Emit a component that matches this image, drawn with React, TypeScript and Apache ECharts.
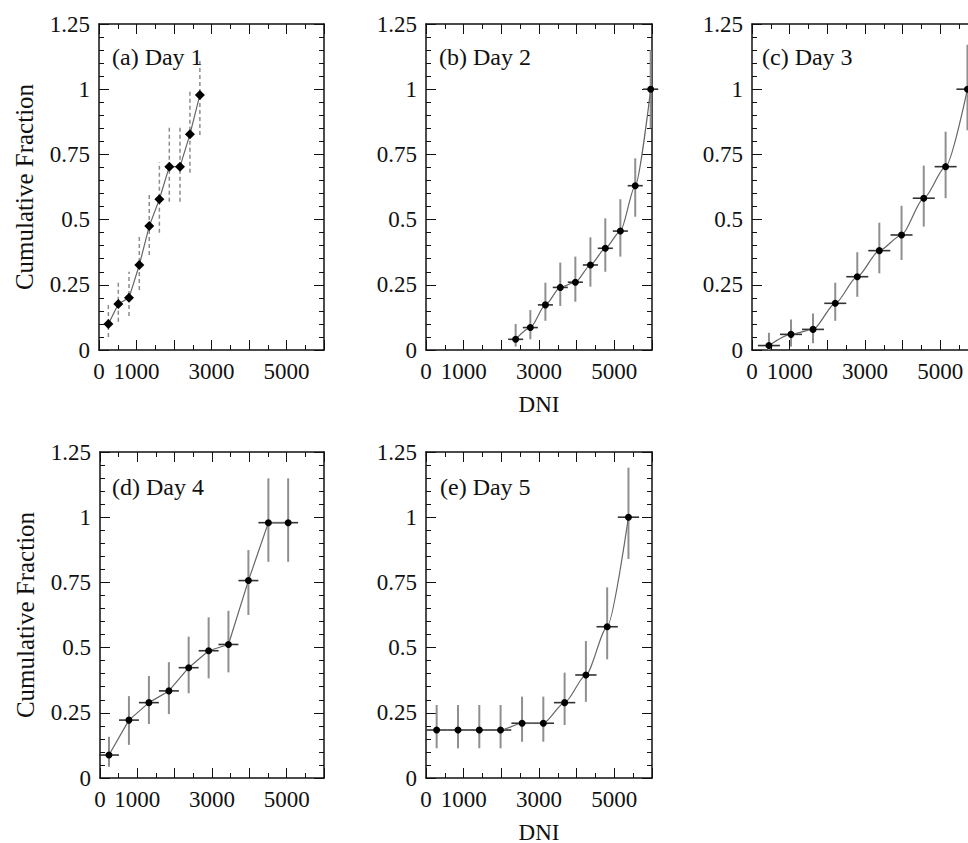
import React, { useEffect, useRef } from "react";
import * as echarts from "echarts";

// ---- data ----
const day1X = [250, 515, 800, 1075, 1340, 1610, 1875, 2160, 2425, 2690];
const day1Y = [0.1, 0.176, 0.2, 0.326, 0.475, 0.578, 0.703, 0.703, 0.827, 0.978];
const day1Lo = [0.05, 0.108, 0.13, 0.23, 0.364, 0.45, 0.568, 0.568, 0.68, 0.824];
const day1Hi = [0.18, 0.268, 0.3, 0.44, 0.603, 0.72, 0.862, 0.862, 0.997, 1.11];

const day2X = [2380, 2770, 3170, 3565, 3965, 4365, 4760, 5160, 5555, 5965];
const day2Y = [0.041, 0.086, 0.173, 0.24, 0.26, 0.326, 0.39, 0.456, 0.63, 1.0];
const day2Lo = [0.013, 0.041, 0.112, 0.169, 0.185, 0.243, 0.3, 0.358, 0.511, 0.85];
const day2Hi = [0.1, 0.153, 0.258, 0.335, 0.358, 0.432, 0.505, 0.578, 0.735, 1.15];

const day3X = [450, 1035, 1620, 2210, 2795, 3380, 3970, 4560, 5140, 5720];
const day3Y = [0.017, 0.06, 0.079, 0.179, 0.281, 0.381, 0.441, 0.582, 0.703, 1.0];
const day3Lo = [0, 0.013, 0.026, 0.112, 0.204, 0.294, 0.345, 0.473, 0.582, 0.843];
const day3Hi = [0.066, 0.117, 0.14, 0.258, 0.375, 0.488, 0.553, 0.707, 0.837, 1.17];

const day4X = [240, 775, 1310, 1845, 2375, 2910, 3440, 3975, 4510, 5040];
const day4Y = [0.088, 0.222, 0.289, 0.334, 0.423, 0.488, 0.512, 0.757, 0.979, 0.979];
const day4Lo = [0.043, 0.127, 0.207, 0.245, 0.325, 0.382, 0.405, 0.625, 0.829, 0.829];
const day4Hi = [0.158, 0.314, 0.391, 0.444, 0.542, 0.616, 0.641, 0.874, 1.149, 1.149];

const day5X = [283, 850, 1415, 1980, 2550, 3115, 3680, 4245, 4810, 5375];
const day5Y = [0.184, 0.184, 0.184, 0.184, 0.21, 0.21, 0.289, 0.395, 0.58, 1.0];
const day5Lo = [0.114, 0.114, 0.114, 0.114, 0.139, 0.139, 0.203, 0.292, 0.455, 0.84];
const day5Hi = [0.28, 0.28, 0.28, 0.28, 0.312, 0.312, 0.404, 0.525, 0.731, 1.19];

// half-widths of the horizontal (bin) error bars per day
const binHalfWidths = [0, 200, 292, 267, 283];

const panelLabels = ["(a) Day 1", "(b) Day 2", "(c) Day 3", "(d) Day 4", "(e) Day 5"];
const xTickLabels = ["0", "1000", "3000", "5000"];
const xMin = 0;
const xMax = 6000;
const xInterval = 1000;
const yMin = 0;
const yMax = 1.25;
const yInterval = 0.25;
const yAxisTitle = "Cumulative Fraction";
const xAxisTitle = "DNI";

const FONT = "Liberation Serif, Times New Roman, Times, serif";
const TEXT = "#111";

type Day = { x: number[]; y: number[]; lo: number[]; hi: number[] };
const days: Day[] = [
  { x: day1X, y: day1Y, lo: day1Lo, hi: day1Hi },
  { x: day2X, y: day2Y, lo: day2Lo, hi: day2Hi },
  { x: day3X, y: day3Y, lo: day3Lo, hi: day3Hi },
  { x: day4X, y: day4Y, lo: day4Lo, hi: day4Hi },
  { x: day5X, y: day5Y, lo: day5Lo, hi: day5Hi },
];

// layout of each panel's plot box
const grids = [
  { left: 99, top: 24, width: 225, height: 326 },
  { left: 426, top: 24, width: 226, height: 326 },
  { left: 752, top: 24, width: 226, height: 326 },
  { left: 100, top: 452, width: 224, height: 326 },
  { left: 426, top: 452, width: 226, height: 326 },
];
const labelPos = [
  [112, 57],
  [439, 57],
  [762, 57],
  [112, 487],
  [440, 487],
];

function buildOption() {
  const axisLine = { show: true, onZero: false, lineStyle: { color: "#111", width: 1.5 } };
  const tick = { show: true, inside: true, length: 10, lineStyle: { color: "#111", width: 1 } };
  const xAxes: any[] = [];
  const yAxes: any[] = [];
  const series: any[] = [];

  grids.forEach((_, i) => {
    const showYTitle = i === 0 || i === 3;
    const showXTitle = i === 1 || i === 4;
    const xBase = {
      gridIndex: i,
      type: "value",
      min: xMin,
      max: xMax,
      interval: xInterval,
      axisLine,
      axisTick: tick,
      minorTick: { show: true, splitNumber: 2, length: 5, lineStyle: { color: "#111", width: 1 } },
      splitLine: { show: false },
      minorSplitLine: { show: false },
    };
    xAxes.push({
      ...xBase,
      position: "bottom",
      axisLabel: {
        show: true,
        margin: 10,
        fontFamily: FONT,
        fontSize: 23,
        color: TEXT,
        formatter: (v: number) => (xTickLabels.includes(String(v)) ? String(v) : ""),
      },
      name: showXTitle ? xAxisTitle : "",
      nameLocation: "middle",
      nameGap: 45,
      nameTextStyle: { fontFamily: FONT, fontSize: 23, color: TEXT, lineHeight: 18 },
    });
    xAxes.push({ ...xBase, position: "top", axisLabel: { show: false } });

    const yBase = {
      gridIndex: i,
      type: "value",
      min: yMin,
      max: yMax,
      interval: yInterval,
      axisLine,
      axisTick: tick,
      minorTick: { show: true, splitNumber: 5, length: 5, lineStyle: { color: "#111", width: 1 } },
      splitLine: { show: false },
      minorSplitLine: { show: false },
    };
    yAxes.push({
      ...yBase,
      position: "left",
      axisLabel: {
        show: true,
        margin: 9,
        fontFamily: FONT,
        fontSize: 23,
        color: TEXT,
        formatter: (v: number) => String(v),
      },
      name: showYTitle ? yAxisTitle : "",
      nameLocation: "middle",
      nameGap: 62,
      nameTextStyle: { fontFamily: FONT, fontSize: 25, color: TEXT },
    });
    yAxes.push({ ...yBase, position: "right", axisLabel: { show: false } });

    const d = days[i];
    const half = binHalfWidths[i];
    const dashed = i === 0;
    const errData = d.x.map((xv, k) => [xv, d.y[k], d.lo[k], d.hi[k]]);
    series.push({
      type: "custom",
      xAxisIndex: i * 2,
      yAxisIndex: i * 2,
      data: errData,
      encode: { x: 0, y: 1 },
      z: 2,
      renderItem: (params: any, api: any) => {
        const x = api.value(0);
        const y = api.value(1);
        const lo = api.value(2);
        const hi = api.value(3);
        const pLo = api.coord([x, lo]);
        const pHi = api.coord([x, hi]);
        const children: any[] = [
          {
            type: "line",
            shape: { x1: pLo[0], y1: pLo[1], x2: pHi[0], y2: pHi[1] },
            style: dashed
              ? { stroke: "#8c8c8c", lineWidth: 1.5, lineDash: [4, 3] }
              : { stroke: "#8f8f8f", lineWidth: 2 },
          },
        ];
        if (half > 0) {
          const pL = api.coord([x - half, y]);
          const pR = api.coord([x + half, y]);
          children.push({
            type: "line",
            shape: { x1: pL[0], y1: pL[1], x2: pR[0], y2: pR[1] },
            style: { stroke: "#333", lineWidth: 1.6 },
          });
        }
        return { type: "group", children };
      },
    });
    series.push({
      type: "line",
      xAxisIndex: i * 2,
      yAxisIndex: i * 2,
      data: d.x.map((xv, k) => [xv, d.y[k]]),
      smooth: i === 1 || i === 2 || i === 4 ? 0.25 : false,
      smoothMonotone: "x",
      symbol: dashed ? "diamond" : "circle",
      symbolSize: dashed ? 10 : 7,
      itemStyle: { color: "#000" },
      lineStyle: { color: "#666", width: 1.2 },
      z: 3,
      silent: true,
    });
  });

  const graphic = panelLabels.map((t, i) => ({
    type: "text",
    x: labelPos[i][0],
    y: labelPos[i][1],
    z: 10,
    style: {
      text: t,
      fill: TEXT,
      font: `24px ${FONT}`,
      align: "left",
      verticalAlign: "middle",
      textAlign: "left",
      textVerticalAlign: "middle",
    },
  }));

  return {
    animation: false,
    backgroundColor: "#fff",
    grid: grids.map((g) => ({ ...g, containLabel: false, outerBoundsMode: "none", show: false })),
    xAxis: xAxes,
    yAxis: yAxes,
    series,
    graphic,
  };
}

export default function App() {
  const ref = useRef<HTMLDivElement>(null);
  useEffect(() => {
    if (!ref.current) return;
    const chart = echarts.init(ref.current, undefined, { renderer: "svg" });
    chart.setOption(buildOption() as any);
    return () => chart.dispose();
  }, []);
  return (
    <div
      ref={ref}
      style={{ position: "absolute", left: 0, top: 0, width: 968, height: 843, background: "#fff" }}
    />
  );
}
